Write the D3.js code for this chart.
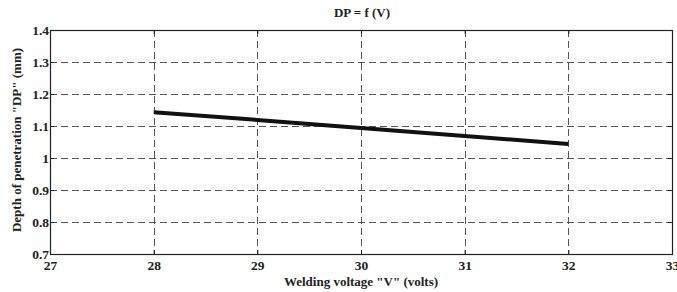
<!DOCTYPE html>
<html>
<head>
<meta charset="utf-8">
<script src="https://cdn.jsdelivr.net/npm/d3@7"></script>
<style>
  body { margin: 0; background: #fff; }
  text { font-family: "Liberation Serif", "Times New Roman", serif; font-weight: bold; fill: #222; }
</style>
</head>
<body>
<svg id="mainSvg" width="677" height="292"></svg>
<script>
// data
let voltage = [28, 29, 30, 31, 32];
let depth = [1.143, 1.119, 1.094, 1.069, 1.044];
let xTicks = [27, 28, 29, 30, 31, 32, 33];
let yTicks = [0.7, 0.8, 0.9, 1, 1.1, 1.2, 1.3, 1.4];

let svg = d3.select('#mainSvg');
let plotL = 50, plotR = 672, plotT = 30, plotB = 254;

let x = d3.scaleLinear().domain([27, 33]).range([plotL, plotR]);
let y = d3.scaleLinear().domain([0.7, 1.4]).range([plotB, plotT]);

// grid
let grid = svg.append('g')
  .attr('stroke', '#555')
  .attr('stroke-width', 1)
  .attr('stroke-dasharray', '7,4');
grid.selectAll('.vg').data(xTicks.slice(1, -1)).join('line')
  .attr('x1', d => Math.round(x(d)) + 0.5).attr('x2', d => Math.round(x(d)) + 0.5)
  .attr('y1', plotT).attr('y2', plotB);
grid.selectAll('.hg').data(yTicks.slice(1, -1)).join('line')
  .attr('y1', d => Math.round(y(d)) + 0.5).attr('y2', d => Math.round(y(d)) + 0.5)
  .attr('x1', plotL).attr('x2', plotR);

// axes with inside ticks
let xAxis = d3.axisBottom(x).tickValues(xTicks).tickSize(-4).tickPadding(6).tickFormat(d3.format('d'));
let yAxis = d3.axisLeft(y).tickValues(yTicks).tickSize(-4).tickPadding(1).tickFormat(d => d);

let gx = svg.append('g').attr('transform', `translate(0,${plotB})`).call(xAxis);
let gy = svg.append('g').attr('transform', `translate(${plotL},0)`).call(yAxis);
[gx, gy].forEach(g => {
  g.select('.domain').remove();
  g.selectAll('line').attr('stroke', '#222');
  g.selectAll('text').attr('font-size', 13.5).attr('fill', '#222')
    .attr('font-family', '"Liberation Serif", serif').attr('font-weight', 'bold');
});
gy.selectAll('text').attr('dy', '0.35em');

// top/right ticks
let gxt = svg.append('g').attr('transform', `translate(0,${plotT})`)
  .call(d3.axisTop(x).tickValues(xTicks).tickSize(-4).tickFormat(''));
let gyr = svg.append('g').attr('transform', `translate(${plotR},0)`)
  .call(d3.axisRight(y).tickValues(yTicks).tickSize(-4).tickFormat(''));
[gxt, gyr].forEach(g => { g.select('.domain').remove(); g.selectAll('line').attr('stroke', '#222'); });

// box
svg.append('rect')
  .attr('x', plotL + 0.5).attr('y', plotT + 0.5)
  .attr('width', plotR - plotL).attr('height', plotB - plotT)
  .attr('fill', 'none').attr('stroke', '#222').attr('stroke-width', 1.2);

// line
let line = d3.line().x((d, i) => x(voltage[i])).y(d => y(d));
svg.append('path')
  .datum(depth)
  .attr('d', line)
  .attr('fill', 'none')
  .attr('stroke', '#111')
  .attr('stroke-width', 4);

// labels
svg.append('text').attr('x', 362).attr('y', 17).attr('text-anchor', 'middle')
  .attr('font-size', 13).text('DP = f (V)');
svg.append('text').attr('x', 361).attr('y', 286).attr('text-anchor', 'middle')
  .attr('font-size', 13).text('Welding voltage "V" (volts)');
svg.append('text')
  .attr('transform', `translate(21,${(plotT + plotB) / 2 - 2}) rotate(-90)`)
  .attr('text-anchor', 'middle').attr('font-size', 13)
  .text('Depth of penetration  "DP"  (mm)');
</script>
</body>
</html>
